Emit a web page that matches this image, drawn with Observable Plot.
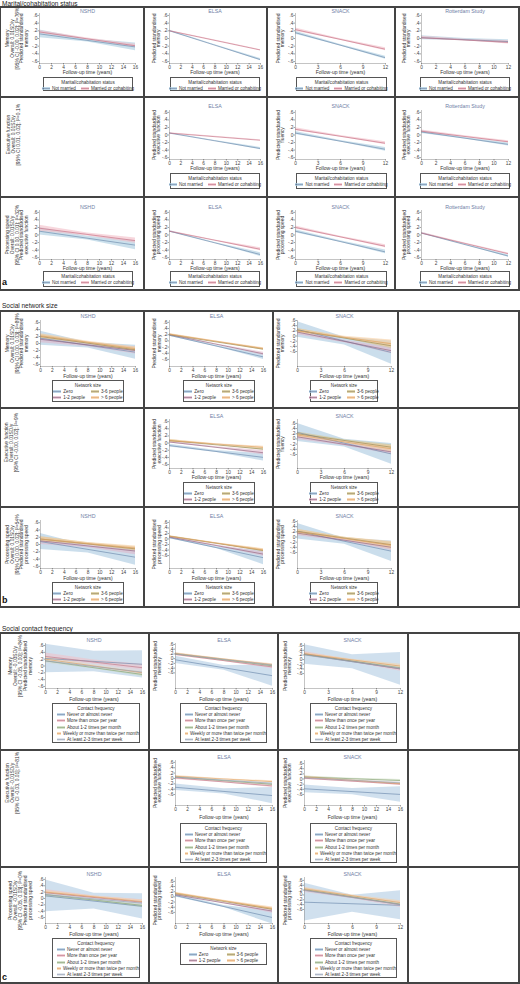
<!DOCTYPE html>
<html><head><meta charset="utf-8">
<script src="https://cdn.jsdelivr.net/npm/d3@7"></script>
<script src="https://cdn.jsdelivr.net/npm/@observablehq/plot@0.6"></script>
<style>
html,body{margin:0;padding:0;background:#fff;}
#root{position:relative;width:520px;height:984px;overflow:hidden;font-family:"Liberation Sans",Arial,sans-serif;color:#222;}
.legend{position:absolute;box-sizing:border-box;border:0.8px solid #555;font-size:4.6px;line-height:5px;color:#333;background:#fff;}
.sw{display:inline-block;width:8px;height:3px;margin-right:2px;vertical-align:middle;}
</style></head><body><div id="root"></div>
<script>
// ---------- data ----------
const studies = ["NSHD", "ELSA", "SNACK", "Rotterdam Study"];
const maritalGroups = ["Not married", "Married or cohabiting"];
const networkGroups = ["Zero", "1-2 people", "3-6 people", "> 6 people"];
const contactGroups = ["Never or almost never", "More than once per year", "About 1-2 times per month", "Weekly or more than twice per month", "At least 2-3 times per week"];
const yTickValues = [-0.6, -0.4, -0.2, 0, 0.2, 0.4, 0.6];
const yTickLabels = ["-.6", "-.4", "-.2", "0", ".2", ".4", ".6"];
const xTicks16 = [0, 2, 4, 6, 8, 10, 12, 14, 16];
const xTicks12 = [0, 3, 6, 9, 12];
const xTicks12b = [0, 2, 4, 6, 8, 10, 12];
const xTitle = "Follow-up time (years)";
const yTitles = {
  mem: "Predicted standardised\nmemory",
  exe: "Predicted standardised\nexecutive function",
  flu: "Predicted standardised\nfluency",
  spd: "Predicted standardised\nprocessing speed"
};
const rowLabels = {
  aMem: "Memory\nOverall: 0.01SD/y\n[95% CI -0.00, 0.02]; I²=76%",
  aExe: "Executive function\nOverall: 0.01SD/y\n[95% CI 0.01, 0.02]; I²=0.1%",
  aSpd: "Processing speed\nOverall: 0.01SD/y\n[95% CI 0.00, 0.01]; I²=32%",
  bMem: "Memory\nOverall: 0.01SD/y\n[95% CI 0.00, 0.03]; I²=89%",
  bExe: "Executive function\nOverall: 0.01SD/y\n[95% CI -0.00, 0.02]; I²=9%",
  bSpd: "Processing speed\nOverall: 0.01SD/y\n[95% CI 0.00, 0.02]; I²=54%",
  cMem: "Memory\nOverall: -0.03SD/y\n[95% CI -0.05, 0.00]; I²=84%",
  cExe: "Executive function\nOverall: -0.01SD/y\n[95% CI -0.03, 0.01]; I²=81%",
  cSpd: "Processing speed\nOverall: -0.01SD/y\n[95% CI -0.05, 0.03]; I²=0%"
};
// each series: [value at start, value at end, CI half-width at start, middle, end]
const marMemNSHD = [[0.12, -0.22, 0.10, 0.04, 0.10], [0.17, -0.19, 0.04, 0.02, 0.04]];
const marMemELSA = [[0.20, -0.55, 0.02, 0.01, 0.03], [0.20, -0.30, 0.01, 0.01, 0.01]];
const marMemSNACK = [[0.15, -0.50, 0.04, 0.02, 0.04], [0.23, -0.28, 0.04, 0.02, 0.04]];
const marMemRott = [[0.02, -0.08, 0.05, 0.03, 0.05], [0.02, -0.10, 0.04, 0.02, 0.04]];
const marExeELSA = [[0.05, -0.36, 0.01, 0.01, 0.03], [0.05, -0.14, 0.01, 0.01, 0.01]];
const marExeSNACK = [[0.05, -0.38, 0.04, 0.02, 0.05], [0.15, -0.22, 0.04, 0.02, 0.04]];
const marExeRott = [[0.08, -0.25, 0.04, 0.02, 0.04], [0.10, -0.18, 0.03, 0.02, 0.03]];
const marSpdNSHD = [[0.10, -0.27, 0.10, 0.05, 0.12], [0.18, -0.15, 0.08, 0.04, 0.07]];
const marSpdELSA = [[0.10, -0.52, 0.02, 0.01, 0.05], [0.10, -0.38, 0.01, 0.01, 0.04]];
const marSpdSNACK = [[0.10, -0.45, 0.04, 0.02, 0.05], [0.20, -0.30, 0.04, 0.02, 0.04]];
const marSpdRott = [[0.05, -0.56, 0.02, 0.01, 0.03], [0.05, -0.50, 0.02, 0.01, 0.02]];

const netMemNSHD = [[0.15, -0.25, 0.20, 0.08, 0.20], [0.12, -0.20, 0.10, 0.05, 0.10], [0.20, -0.18, 0.06, 0.03, 0.05], [0.22, -0.15, 0.06, 0.03, 0.06]];
const netMemELSA = [[0.18, -0.52, 0.03, 0.02, 0.08], [0.20, -0.42, 0.02, 0.01, 0.05], [0.20, -0.27, 0.02, 0.01, 0.03], [0.22, -0.25, 0.02, 0.01, 0.03]];
const netMemSNACK = [[0.25, -0.64, 0.30, 0.15, 0.45], [0.15, -0.57, 0.10, 0.05, 0.12], [0.22, -0.38, 0.07, 0.03, 0.10], [0.20, -0.30, 0.08, 0.04, 0.15]];
const netExeELSA = [[-0.07, -0.40, 0.04, 0.03, 0.10], [0.03, -0.27, 0.03, 0.02, 0.06], [0.07, -0.17, 0.03, 0.01, 0.03], [0.07, -0.12, 0.03, 0.01, 0.03]];
const netExeSNACK = [[0.25, -0.58, 0.35, 0.15, 0.40], [0.08, -0.50, 0.10, 0.05, 0.10], [0.20, -0.32, 0.07, 0.03, 0.10], [0.15, -0.38, 0.08, 0.04, 0.12]];
const netSpdNSHD = [[0.08, -0.35, 0.22, 0.10, 0.22], [0.10, -0.18, 0.10, 0.05, 0.10], [0.15, -0.12, 0.06, 0.03, 0.05], [0.15, -0.10, 0.06, 0.03, 0.06]];
const netSpdELSA = [[0.05, -0.68, 0.04, 0.03, 0.25], [0.07, -0.55, 0.03, 0.02, 0.08], [0.10, -0.42, 0.02, 0.01, 0.05], [0.10, -0.40, 0.02, 0.01, 0.05]];
const netSpdSNACK = [[0.22, -0.55, 0.30, 0.12, 0.40], [0.15, -0.40, 0.10, 0.05, 0.12], [0.22, -0.30, 0.07, 0.03, 0.10], [0.20, -0.32, 0.10, 0.05, 0.15]];

const conMemNSHD = [[0.22, 0.05, 0.42, 0.30, 0.40], [0.28, -0.05, 0.10, 0.06, 0.10], [0.15, -0.25, 0.06, 0.03, 0.06], [0.20, -0.20, 0.06, 0.03, 0.05], [0.15, -0.18, 0.07, 0.04, 0.07]];
const conMemELSA = [[-0.05, -0.72, 0.15, 0.10, 0.45], [0.18, -0.35, 0.06, 0.03, 0.08], [0.20, -0.30, 0.03, 0.02, 0.04], [0.22, -0.25, 0.03, 0.01, 0.03], [0.20, -0.27, 0.03, 0.01, 0.03]];
const conMemSNACK = [[0.22, -0.40, 0.42, 0.30, 0.70], [0.25, -0.40, 0.10, 0.05, 0.10], [0.22, -0.35, 0.06, 0.03, 0.07], [0.25, -0.28, 0.05, 0.03, 0.08], [0.20, -0.38, 0.05, 0.03, 0.06]];
const conExeELSA = [[-0.33, -0.64, 0.12, 0.10, 0.30], [0.02, -0.28, 0.06, 0.03, 0.06], [0.05, -0.22, 0.03, 0.02, 0.04], [0.08, -0.12, 0.03, 0.01, 0.03], [0.05, -0.18, 0.03, 0.01, 0.03]];
const conExeSNACK = [[-0.38, -0.60, 0.15, 0.12, 0.30], [0.03, -0.20, 0.05, 0.03, 0.05], [0.08, -0.06, 0.04, 0.02, 0.04], [0.08, -0.18, 0.04, 0.02, 0.04], [0.05, -0.15, 0.04, 0.02, 0.04]];
const conSpdNSHD = [[0.08, -0.25, 0.50, 0.25, 0.40], [0.18, -0.12, 0.10, 0.05, 0.08], [0.12, -0.22, 0.08, 0.04, 0.07], [0.20, -0.10, 0.05, 0.03, 0.05], [0.12, -0.15, 0.06, 0.03, 0.06]];
const conSpdELSA = [[0.05, -0.80, 0.05, 0.04, 0.25], [0.08, -0.55, 0.03, 0.02, 0.08], [0.12, -0.48, 0.03, 0.01, 0.05], [0.15, -0.45, 0.03, 0.02, 0.06]];
const conSpdSNACK = [[-0.30, -0.43, 0.78, 0.35, 0.60], [0.20, -0.40, 0.10, 0.05, 0.12], [0.22, -0.38, 0.06, 0.03, 0.07], [0.25, -0.32, 0.06, 0.03, 0.08], [0.18, -0.40, 0.06, 0.03, 0.08]];

// ---------- styles ----------
const palettes = {
  mar: {title: "Marital/cohabitation status", groups: maritalGroups, line: ["#6a88aa", "#c46e82"], band: ["#a9cbe0", "#f1bcc7"], kind: "row"},
  net: {title: "Network size", groups: networkGroups, line: ["#6a88ac", "#94657f", "#9c8a52", "#e0a060"], band: ["#a8c8df", "#dfb8cb", "#d2c58f", "#f7cd9f"], kind: "grid"},
  con: {title: "Contact frequency", groups: contactGroups, line: ["#6a88ac", "#c07585", "#86a072", "#e0a060", "#94a0b4"], band: ["#b0cce2", "#f0c1ca", "#c6d9ba", "#f7d2a8", "#d8dee8"], kind: "col"}
};
const FONT = "Liberation Sans, Arial, sans-serif";
const TITLE_COLOR = "#7080a6";

const A = {cells: [0, 144, 267, 395, 519], rows: [7, 97, 197, 290], frames: [[39, 135], [169, 260], [295, 385], [421, 508]], legs: [[43, 133], [170, 260], [296, 387], [420, 510]], ylabDx: [-22.5, -13, -15, -15]};
const B = {cells: [0, 144, 273, 398, 519], rows: [311, 408, 507, 607], frames: [[40, 135], [169, 263], [297, 391]], legs: [[52, 124], [183, 255], [310, 378]], ylabDx: [-23.5, -12.5, -17]};
const C = {cells: [0, 149, 278, 408, 519], rows: [633, 750, 867, 983], frames: [[45, 142], [175, 272], [304, 400]], legs: [[52, 140], [180, 267], [310, 397]], ylabDx: [-25, -18, -17]};
const rA = [{fy: [13, 63], title: 10.5, xlab: 72, leg: [77, 91]}, {fy: [110, 159], title: 106, xlab: 168, leg: [173, 189]}, {fy: [210, 259], title: 206.5, xlab: 268, leg: [271, 287]}];
const rB = [{fy: [320, 366], title: 315.5, xlab: 376, leg: [380, 402]}, {fy: [419, 468], title: 415.5, xlab: 477, leg: [482, 504]}, {fy: [520, 568], title: 516, xlab: 578, leg: [582, 604]}];
const rC = [{fy: [643, 688], title: 639.5, xlab: 699, leg: [703, 743]}, {fy: [760, 805], title: 756.5, xlab: 817, leg: [823, 863]}, {fy: [877, 923], title: 873.5, xlab: 934, leg: [938, 978]}];

const panels = [
  {s: A, r: rA[0], c: 0, t: 0, d: marMemNSHD, x: xTicks16, y: [-0.65, 0.65], yl: "mem", p: "mar", rl: rowLabels.aMem},
  {s: A, r: rA[0], c: 1, t: 1, d: marMemELSA, x: xTicks16, y: [-0.65, 0.65], yl: "mem", p: "mar"},
  {s: A, r: rA[0], c: 2, t: 2, d: marMemSNACK, x: xTicks12, y: [-0.65, 0.65], yl: "mem", p: "mar"},
  {s: A, r: rA[0], c: 3, t: 3, d: marMemRott, x: xTicks12b, y: [-0.65, 0.65], yl: "mem", p: "mar"},
  {s: A, r: rA[1], c: 1, t: 1, d: marExeELSA, x: xTicks16, y: [-0.65, 0.65], yl: "exe", p: "mar"},
  {s: A, r: rA[1], c: 2, t: 2, d: marExeSNACK, x: xTicks12, y: [-0.65, 0.65], yl: "flu", p: "mar"},
  {s: A, r: rA[1], c: 3, t: 3, d: marExeRott, x: xTicks12b, y: [-0.65, 0.65], yl: "exe", p: "mar"},
  {s: A, r: rA[2], c: 0, t: 0, d: marSpdNSHD, x: xTicks16, y: [-0.65, 0.65], yl: "exe", p: "mar", rl: rowLabels.aSpd},
  {s: A, r: rA[2], c: 1, t: 1, d: marSpdELSA, x: xTicks16, y: [-0.65, 0.65], yl: "spd", p: "mar"},
  {s: A, r: rA[2], c: 2, t: 2, d: marSpdSNACK, x: xTicks12, y: [-0.65, 0.65], yl: "spd", p: "mar"},
  {s: A, r: rA[2], c: 3, t: 3, d: marSpdRott, x: xTicks12b, y: [-0.65, 0.65], yl: "spd", p: "mar"},

  {s: B, r: rB[0], c: 0, t: 0, d: netMemNSHD, x: xTicks16, y: [-0.66, 0.66], yl: "mem", p: "net", rl: rowLabels.bMem},
  {s: B, r: rB[0], c: 1, t: 1, d: netMemELSA, x: xTicks16, y: [-0.83, 0.66], yl: "mem", p: "net"},
  {s: B, r: rB[0], c: 2, t: 2, d: netMemSNACK, x: xTicks12, y: [-1.18, 0.6], yl: "mem", p: "net"},
  {s: B, r: rB[1], c: 1, t: 1, d: netExeELSA, x: xTicks16, y: [-0.71, 0.66], yl: "exe", p: "net"},
  {s: B, r: rB[1], c: 2, t: 2, d: netExeSNACK, x: xTicks12, y: [-1.14, 0.75], yl: "flu", p: "net"},
  {s: B, r: rB[2], c: 0, t: 0, d: netSpdNSHD, x: xTicks16, y: [-0.66, 0.66], yl: "spd", p: "net", rl: rowLabels.bSpd},
  {s: B, r: rB[2], c: 1, t: 1, d: netSpdELSA, x: xTicks16, y: [-1.07, 0.67], yl: "spd", p: "net"},
  {s: B, r: rB[2], c: 2, t: 2, d: netSpdSNACK, x: xTicks12, y: [-1.22, 0.64], yl: "spd", p: "net"},

  {s: C, r: rC[0], c: 0, t: 0, d: conMemNSHD, x: xTicks16, y: [-0.66, 0.66], yl: "mem", p: "con", rl: rowLabels.cMem},
  {s: C, r: rC[0], c: 1, t: 1, d: conMemELSA, x: xTicks16, y: [-1.26, 0.64], yl: "mem", p: "con"},
  {s: C, r: rC[0], c: 2, t: 2, d: conMemSNACK, x: xTicks12, y: [-1.24, 0.69], yl: "mem", p: "con"},
  {s: C, r: rC[1], c: 1, t: 1, d: conExeELSA, x: xTicks16, y: [-1.01, 0.67], yl: "exe", p: "con"},
  {s: C, r: rC[1], c: 2, t: 2, d: conExeSNACK, x: xTicks16, y: [-1.03, 0.72], yl: "exe", p: "con"},
  {s: C, r: rC[2], c: 0, t: 0, d: conSpdNSHD, x: xTicks16, y: [-0.79, 0.66], yl: "spd", p: "con", rl: rowLabels.cSpd},
  {s: C, r: rC[2], c: 1, t: 1, d: conSpdELSA, x: xTicks16, y: [-1.03, 0.75], yl: "spd", p: "net", legY: [943, 965]},
  {s: C, r: rC[2], c: 2, t: 2, d: conSpdSNACK, x: xTicks12, y: [-1.18, 0.72], yl: "spd", p: "con"}
];
const emptyRowLabels = [
  {text: rowLabels.aExe, cx: 14, cy: 134.5},
  {text: rowLabels.bExe, cx: 12.5, cy: 443},
  {text: rowLabels.cExe, cx: 13, cy: 783}
];
const sectionTitles = [
  {text: "Marital/cohabitation status", y: 0},
  {text: "Social network size", y: 301.5},
  {text: "Social contact frequency", y: 624.5}
];
const sectionLetters = [{text: "a", y: 278}, {text: "b", y: 596}, {text: "c", y: 973}];

// ---------- drawing ----------
const root = document.getElementById("root");
function el(css, text) {
  const e = document.createElement("div");
  e.style.cssText = css;
  if (text != null) e.textContent = text;
  root.appendChild(e);
  return e;
}

function drawPanel(pn) {
  const S = pn.s, R = pn.r, pal = palettes[pn.p];
  const cx0 = S.cells[pn.c], cx1 = S.cells[pn.c + 1];
  const [fx0, fx1] = S.frames[pn.c];
  const [fy0, fy1] = R.fy;
  const xmax = pn.x[pn.x.length - 1];
  const mt = 12, mb = R.xlab - fy1 + 5;
  const ml = fx0 - cx0, mr = cx1 - fx1;
  const marks = [];
  pn.d.forEach((sr, i) => {
    const xs = [0, xmax / 2, xmax];
    const c = [sr[0], (sr[0] + sr[1]) / 2, sr[1]];
    const band = xs.map((x, j) => ({x, lo: c[j] - sr[2 + j], hi: c[j] + sr[2 + j]}));
    marks.push(Plot.areaY(band, {x: "x", y1: "lo", y2: "hi", fill: pal.band[i], fillOpacity: 0.6, clip: true}));
  });
  pn.d.forEach((sr, i) => {
    marks.push(Plot.lineY([{x: 0, y: sr[0]}, {x: xmax, y: sr[1]}], {x: "x", y: "y", stroke: pal.line[i], strokeWidth: 0.65, clip: true}));
  });
  marks.push(Plot.ruleX([0], {stroke: "#888", strokeWidth: 0.5}));
  marks.push(Plot.ruleY([pn.y[0]], {stroke: "#888", strokeWidth: 0.5}));
  marks.push(Plot.axisX({ticks: pn.x, tickSize: 1.5, tickPadding: 0.5, fontSize: 4.8, label: null, color: "#444", strokeWidth: 0.5}));
  marks.push(Plot.axisY({ticks: yTickValues, tickFormat: d => yTickLabels[Math.round(d * 5) + 3], tickSize: 1.5, tickPadding: 0.5, fontSize: 4.8, label: null, color: "#444", strokeWidth: 0.5}));
  marks.push(Plot.text([studies[pn.t]], {frameAnchor: "top", dy: R.title - fy0, fontSize: 5.3, fill: TITLE_COLOR, textAnchor: "middle", lineAnchor: "middle"}));
  marks.push(Plot.text([xTitle], {frameAnchor: "bottom", dy: R.xlab - fy1, fontSize: 5, fill: "#333", textAnchor: "middle", lineAnchor: "middle"}));
  const ylab = pn.rl ? pn.rl + "\n" + yTitles[pn.yl] : yTitles[pn.yl];
  marks.push(Plot.text([ylab], {frameAnchor: "left", dx: S.ylabDx[pn.c], rotate: -90, fontSize: 4.9, lineHeight: 0.98, fill: "#333", textAnchor: "middle", lineAnchor: "middle"}));
  const svg = Plot.plot({
    width: cx1 - cx0, height: mt + (fy1 - fy0) + mb,
    marginTop: mt, marginBottom: mb, marginLeft: ml, marginRight: mr,
    x: {domain: [0, xmax]}, y: {domain: pn.y},
    style: {fontFamily: FONT, fontSize: "5px", background: "transparent", overflow: "visible", color: "#444"},
    marks
  });
  svg.style.position = "absolute";
  svg.style.left = cx0 + "px";
  svg.style.top = (fy0 - mt) + "px";
  root.appendChild(svg);

  // legend
  const [lx0, lx1] = S.legs[pn.c];
  const [ly0, ly1] = pn.legY || R.leg;
  const lg = el(`left:${lx0}px;top:${ly0}px;width:${lx1 - lx0}px;height:${ly1 - ly0}px;`);
  lg.className = "legend";
  const ttl = document.createElement("div");
  ttl.style.cssText = "text-align:center;margin-top:1.5px;";
  ttl.textContent = pal.title;
  lg.appendChild(ttl);
  const item = (i) => {
    const sp = document.createElement("div");
    sp.style.cssText = "white-space:nowrap;display:flex;align-items:center;";
    const sw = document.createElement("span");
    sw.className = "sw";
    sw.style.background = `linear-gradient(to bottom, ${pal.band[i]} 42%, ${pal.line[i]} 42%, ${pal.line[i]} 58%, ${pal.band[i]} 58%)`;
    sw.style.opacity = "0.75";
    sp.appendChild(sw);
    const tx = document.createElement("span");
    tx.textContent = pal.groups[i];
    sp.appendChild(tx);
    return sp;
  };
  if (pal.kind === "row") {
    const row = document.createElement("div");
    row.style.cssText = "display:flex;justify-content:center;gap:5px;margin-top:1.5px;";
    pal.groups.forEach((g, i) => row.appendChild(item(i)));
    lg.appendChild(row);
  } else if (pal.kind === "grid") {
    const grid = document.createElement("div");
    grid.style.cssText = "display:grid;grid-template-columns:auto auto;justify-content:center;column-gap:6px;row-gap:1px;margin-top:1.5px;";
    [0, 2, 1, 3].forEach(i => grid.appendChild(item(i)));
    lg.appendChild(grid);
  } else {
    const col = document.createElement("div");
    col.style.cssText = "margin-top:1.5px;padding-left:4px;display:flex;flex-direction:column;gap:1.3px;";
    pal.groups.forEach((g, i) => col.appendChild(item(i)));
    lg.appendChild(col);
  }
}

panels.forEach(drawPanel);

// row labels in empty first-column cells
emptyRowLabels.forEach(r => {
  const box = el(`position:absolute;left:${r.cx - 20}px;top:${r.cy - 45}px;width:40px;height:90px;display:flex;align-items:center;justify-content:center;`);
  const t = document.createElement("div");
  t.style.cssText = "writing-mode:vertical-rl;transform:rotate(180deg);font-size:4.9px;line-height:4.9px;text-align:center;white-space:pre;color:#333;";
  t.textContent = r.text;
  box.appendChild(t);
});

// section titles and letters
sectionTitles.forEach(s => el(`position:absolute;left:2px;top:${s.y}px;font-size:6.5px;line-height:7px;white-space:nowrap;color:#222;`, s.text));
sectionLetters.forEach(s => el(`position:absolute;left:2px;top:${s.y}px;font-size:9px;line-height:9px;font-weight:bold;color:#111;`, s.text));

// grid borders
function grid(S) {
  const x0 = S.cells[0], x1 = S.cells[S.cells.length - 1];
  const y0 = S.rows[0], y1 = S.rows[S.rows.length - 1];
  S.rows.forEach(y => el(`position:absolute;left:${x0}px;top:${y - 0.6}px;width:${x1 - x0 + 1}px;height:1.2px;background:#444;`));
  S.cells.forEach(x => el(`position:absolute;left:${x - 0.6}px;top:${y0}px;width:1.2px;height:${y1 - y0}px;background:#444;`));
}
[A, B, C].forEach(grid);
</script></body></html>
